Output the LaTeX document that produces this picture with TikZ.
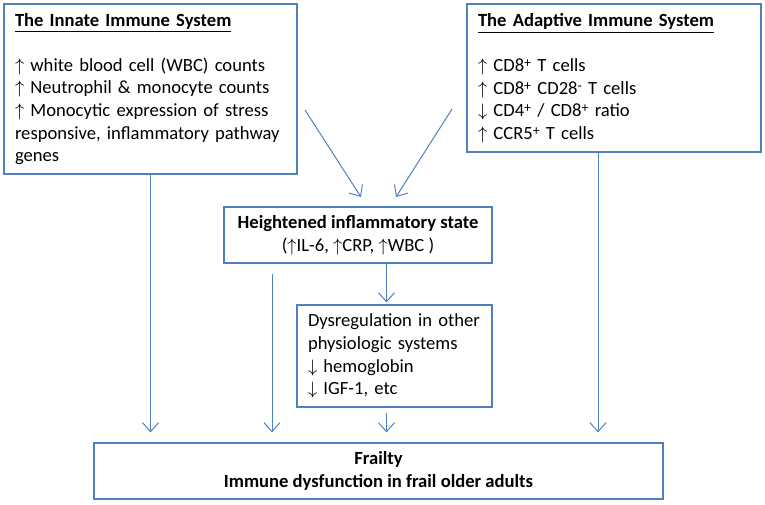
\documentclass[tikz,border=0pt]{standalone}
\usepackage{fontspec}
\setmainfont{Carlito}
\usepackage{tikz}
\usepackage{color}
\usetikzlibrary{arrows.meta}
\definecolor{boxblue}{RGB}{79,129,189}
\newcommand{\supsign}[1]{\raisebox{0.45ex}{\scriptsize #1}}

\begin{document}
\begin{tikzpicture}[x=0.5pt,y=-0.5pt,
		box/.style={draw=boxblue, line width=0.6pt, inner xsep=5.5pt, inner ysep=0pt,
			font=\fontsize{9.3}{11.3}\selectfont},
		arr/.style={draw=boxblue, line width=0.5pt, -{Straight Barb[length=4.5pt,width=8pt]}}]
		\useasboundingbox (0,0) rectangle (765,504);
		
		% Immune systems.
		\node[box, text width=135.5pt, minimum height=85pt, align=left] (innate) at (150.5,89)
			{\underline{\textbf{The Innate Immune System}}\\[11.3pt]
			$\uparrow$ white blood cell (WBC) counts\\
			$\uparrow$ Neutrophil \& monocyte counts\\
			$\uparrow$ Monocytic expression of stress responsive, inflammatory pathway genes};
		\node[box, text width=136pt, minimum height=74pt, align=left] (adaptive) at (614,78)
			{\underline{\textbf{The Adaptive Immune System}}\\[11.3pt]
			$\uparrow$ CD8\supsign{+} T cells\\
			$\uparrow$ CD8\supsign{+} CD28\supsign{-} T cells\\
			$\downarrow$ CD4\supsign{+} / CD8\supsign{+} ratio\\
			$\uparrow$ CCR5\supsign{+} T cells};
		
		% Middle boxes.
		\node[box, minimum width=134pt, minimum height=28pt, align=center] (heightened) at (358,235)
			{\textbf{Heightened inflammatory state}\\
			($\uparrow$IL-6, $\uparrow$CRP, $\uparrow$WBC )};
		\node[box, text width=86.5pt, minimum height=51pt, align=left] (dysreg) at (394.5,356)
			{Dysregulation in other physiologic systems\\
			$\downarrow$ hemoglobin\\
			$\downarrow$ IGF-1, etc};
		
		% Outcome.
		\node[box, minimum width=284.5pt, minimum height=28pt, align=center, font=\fontsize{9.3}{11.3}\bfseries] (frailty) at (378.5,471)
			{Frailty\\
			Immune dysfunction in frail older adults};
		
		% Free arrow ends.
		\coordinate (innatetail) at (305,110);
		\coordinate (innatehead) at (361,197);
		\coordinate (adapttail) at (452,109);
		\coordinate (adapthead) at (396,197);
		\coordinate (leftdrop) at (272,0);
		\coordinate (middrop) at (386.5,0);
		\coordinate (rightdrop) at (598,0);
		
		% Arrows.
		\draw[arr] (innatetail) -- (innatehead);
		\draw[arr] (adapttail) -- (adapthead);
		\draw[arr, shorten >=5pt] (innate.south) -- (innate.south |- frailty.north);
		\draw[arr, shorten >=5pt] (adaptive.south -| rightdrop) -- (frailty.north -| rightdrop);
		\draw[arr, shorten <=5pt, shorten >=5pt] (heightened.south -| leftdrop) -- (frailty.north -| leftdrop);
		\draw[arr, shorten >=1pt] (heightened.south -| middrop) -- (dysreg.north -| middrop);
		\draw[arr, shorten <=2.5pt, shorten >=5pt] (dysreg.south -| middrop) -- (frailty.north -| middrop);
	\end{tikzpicture}
\end{document}
